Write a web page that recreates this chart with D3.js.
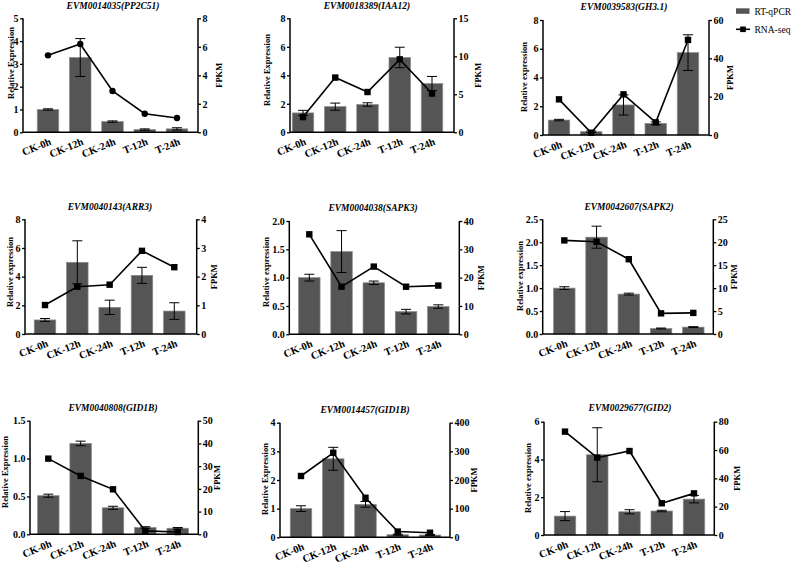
<!DOCTYPE html>
<html>
<head>
<meta charset="utf-8">
<script src="https://cdn.jsdelivr.net/npm/d3@7"></script>
<style>
  body { margin: 0; background: #fff; }
  svg { display: block; }
  svg text { font-family: "Liberation Serif", "Times New Roman", serif; }
</style>
</head>
<body>
<script>
'use strict';

// ---- data ----
const categories = ["CK-0h", "CK-12h", "CK-24h", "T-12h", "T-24h"];

const titles = [
  "EVM0014035(PP2C51)", "EVM0018389(IAA12)", "EVM0039583(GH3.1)",
  "EVM0040143(ARR3)", "EVM0004038(SAPK3)", "EVM0042607(SAPK2)",
  "EVM0040808(GID1B)", "EVM0014457(GID1B)", "EVM0029677(GID2)"
];

const yLabels = [
  "Relative Expression", "Relative Expression", "Relative expression",
  "Relative expression", "Relative expression", "Relative expression",
  "Relative Expression", "Relative Expression", "Relative expression"
];

const qpcr = [
  [1.00, 3.28, 0.47, 0.12, 0.15],
  [1.36, 1.80, 1.95, 5.25, 3.42],
  [1.04, 0.23, 2.09, 0.81, 5.73],
  [0.98, 5.00, 1.86, 4.09, 1.60],
  [1.00, 1.46, 0.91, 0.40, 0.49],
  [1.00, 2.11, 0.87, 0.12, 0.15],
  [0.51, 1.20, 0.35, 0.09, 0.08],
  [1.00, 2.74, 1.15, 0.09, 0.08],
  [1.00, 4.25, 1.23, 1.27, 1.90]
];

const qpcrErr = [
  [0.03, 0.83, 0.03, 0.03, 0.05],
  [0.18, 0.25, 0.12, 0.72, 0.50],
  [0.05, 0.05, 0.70, 0.10, 1.24],
  [0.10, 1.50, 0.50, 0.56, 0.58],
  [0.06, 0.37, 0.03, 0.04, 0.03],
  [0.03, 0.24, 0.02, 0.01, 0.01],
  [0.02, 0.03, 0.02, 0.01, 0.01],
  [0.10, 0.40, 0.10, 0.02, 0.02],
  [0.24, 1.43, 0.11, 0.04, 0.20]
];

const fpkm = [
  [5.4, 6.2, 2.9, 1.3, 1.0],
  [2.0, 7.2, 5.3, 9.6, 5.1],
  [18.6, 1.2, 21.2, 6.6, 49.6],
  [1.01, 1.65, 1.72, 2.9, 2.33],
  [35.3, 16.8, 23.9, 16.8, 17.2],
  [20.4, 20.1, 16.3, 4.5, 4.6],
  [33.3, 25.7, 19.8, 1.5, 1.0],
  [214, 295, 138, 20, 16],
  [73, 54.6, 59.3, 22.4, 29.4]
];

const leftTicks = [
  [0, 1, 2, 3, 4, 5], [0, 2, 4, 6, 8], [0, 2, 4, 6, 8],
  [0, 2, 4, 6, 8], [0, 0.5, 1, 1.5, 2], [0, 0.5, 1, 1.5, 2, 2.5],
  [0, 0.5, 1, 1.5], [0, 1, 2, 3, 4], [0, 2, 4, 6]
];
const leftFormat = ["d", "d", "d", "d", ".1f", ".1f", ".1f", "d", "d"];

const rightTicks = [
  [0, 2, 4, 6, 8], [0, 5, 10, 15], [0, 20, 40, 60],
  [0, 1, 2, 3, 4], [0, 10, 20, 30, 40], [0, 5, 10, 15, 20, 25],
  [0, 10, 20, 30, 40, 50], [0, 100, 200, 300, 400], [0, 20, 40, 60, 80]
];

const markerType = ["circle", "square", "square", "square", "square", "square", "square", "square", "square"];

const legendLabels = ["RT-qPCR", "RNA-seq"];

// ---- layout (pixel boxes of each panel) ----
const boxes = [
  { L: 23,    R: 198,   T: 18.3,  B: 132.3, x0: 48,    x4: 177,   tx: 113, ty: 9,   yl: [10.5, 63],  fx: 219 },
  { L: 290,   R: 454,   T: 18.3,  B: 132.3, x0: 303,   x4: 432,   tx: 367, ty: 9,   yl: [266.5, 70], fx: 478 },
  { L: 543,   R: 709,   T: 20,    B: 135,   x0: 559,   x4: 688,   tx: 624, ty: 10,  yl: [524, 77],   fx: 730 },
  { L: 25,    R: 196.7, T: 219.3, B: 334,   x0: 45,    x4: 174.3, tx: 110, ty: 210, yl: [9.5, 272],  fx: 214 },
  { L: 289.3, R: 459.3, T: 221,   B: 334.3, x0: 309.3, x4: 438.3, tx: 373, ty: 211, yl: [265.5, 272], fx: 481 },
  { L: 542.7, R: 713.3, T: 219.3, B: 334,   x0: 564.3, x4: 693.3, tx: 629, ty: 210, yl: [519.5, 276], fx: 734 },
  { L: 30,    R: 198.3, T: 420.7, B: 534.3, x0: 48.3,  x4: 177.7, tx: 113, ty: 411, yl: [4.5, 472],  fx: 217 },
  { L: 280,   R: 450,   T: 422.7, B: 537.3, x0: 301,   x4: 430,   tx: 365, ty: 413, yl: [265, 479],  fx: 474 },
  { L: 544,   R: 714.3, T: 421.7, B: 535,   x0: 565,   x4: 694,   tx: 630, ty: 411, yl: [527.5, 478], fx: 737 }
];

const barFill = "#555555";
const barWidth = 21.5;

const svg = d3.select("body").append("svg")
  .attr("width", 794)
  .attr("height", 565);

function drawPanel(i) {
  const b = boxes[i];
  const g = svg.append("g");

  const x = d3.scalePoint().domain(categories).range([b.x0, b.x4]);
  const lt = leftTicks[i], rt = rightTicks[i];
  const yL = d3.scaleLinear().domain([0, lt[lt.length - 1]]).range([b.B, b.T]);
  const yR = d3.scaleLinear().domain([0, rt[rt.length - 1]]).range([b.B, b.T]);

  const rows = categories.map((c, k) => ({ c: c, v: qpcr[i][k], e: qpcrErr[i][k], f: fpkm[i][k] }));

  // bars
  g.selectAll("rect.bar").data(rows).enter().append("rect")
    .attr("class", "bar")
    .attr("x", d => x(d.c) - barWidth / 2)
    .attr("width", barWidth)
    .attr("y", d => yL(d.v))
    .attr("height", d => b.B - yL(d.v))
    .attr("fill", barFill)
    .attr("stroke", "#8c8c8c")
    .attr("stroke-width", 0.7);

  // error bars
  const eb = g.selectAll("g.err").data(rows).enter().append("g").attr("class", "err")
    .attr("stroke", "#000").attr("stroke-width", 1);
  eb.append("line")
    .attr("x1", d => x(d.c)).attr("x2", d => x(d.c))
    .attr("y1", d => yL(Math.max(0, d.v - d.e))).attr("y2", d => yL(d.v + d.e));
  eb.append("line")
    .attr("x1", d => x(d.c) - 5).attr("x2", d => x(d.c) + 5)
    .attr("y1", d => yL(d.v + d.e)).attr("y2", d => yL(d.v + d.e));
  eb.append("line")
    .attr("x1", d => x(d.c) - 5).attr("x2", d => x(d.c) + 5)
    .attr("y1", d => yL(Math.max(0, d.v - d.e))).attr("y2", d => yL(Math.max(0, d.v - d.e)));

  // RNA-seq line
  const line = d3.line().x(d => x(d.c)).y(d => yR(d.f));
  g.append("path").datum(rows)
    .attr("d", line)
    .attr("fill", "none")
    .attr("stroke", "#000")
    .attr("stroke-width", 1.6);

  if (markerType[i] === "circle") {
    g.selectAll("circle.pt").data(rows).enter().append("circle")
      .attr("class", "pt")
      .attr("cx", d => x(d.c)).attr("cy", d => yR(d.f)).attr("r", 3.2)
      .attr("fill", "#000");
  } else {
    g.selectAll("rect.pt").data(rows).enter().append("rect")
      .attr("class", "pt")
      .attr("x", d => x(d.c) - 3.2).attr("y", d => yR(d.f) - 3.2)
      .attr("width", 6.4).attr("height", 6.4)
      .attr("fill", "#000");
  }

  // axes
  const axL = g.append("g").attr("transform", "translate(" + b.L + ",0)")
    .call(d3.axisLeft(yL).tickValues(lt).tickFormat(d3.format(leftFormat[i])).tickSize(3).tickPadding(1.5));
  const axR = g.append("g").attr("transform", "translate(" + b.R + ",0)")
    .call(d3.axisRight(yR).tickValues(rt).tickFormat(d3.format("d")).tickSize(3).tickPadding(1.5));
  [axL, axR].forEach(ax => {
    ax.select(".domain").attr("stroke-width", 1.5).attr("d", "M0," + b.T + "V" + b.B);
    ax.selectAll(".tick line").attr("stroke-width", 1.3);
    ax.selectAll("text")
      .style("font-weight", "bold")
      .style("font-size", "10px");
  });

  g.append("line")
    .attr("x1", b.L).attr("x2", b.R)
    .attr("y1", b.B).attr("y2", b.B)
    .attr("stroke", "#000").attr("stroke-width", 1.5);

  // category labels
  g.selectAll("text.cat").data(categories).enter().append("text")
    .attr("class", "cat")
    .attr("text-anchor", "end")
    .attr("transform", d => "translate(" + (x(d) + 4) + "," + (b.B + 12) + ")rotate(-22)")
    .style("font-weight", "bold")
    .style("font-size", "10.5px")
    .text(d => d);

  // title
  g.append("text")
    .attr("x", b.tx).attr("y", b.ty)
    .attr("text-anchor", "middle")
    .style("font-weight", "bold")
    .style("font-style", "italic")
    .style("font-size", "9.5px")
    .text(titles[i]);

  // axis titles
  g.append("text")
    .attr("transform", "translate(" + (b.yl[0] + 3) + "," + b.yl[1] + ")rotate(-90)")
    .attr("text-anchor", "middle")
    .style("font-weight", "bold")
    .style("font-size", "8.5px")
    .text(yLabels[i]);

  g.append("text")
    .attr("transform", "translate(" + (b.fx + 3) + "," + ((b.T + b.B) / 2) + ")rotate(-90)")
    .attr("text-anchor", "middle")
    .style("font-weight", "bold")
    .style("font-size", "8.5px")
    .text("FPKM");
}

d3.range(9).forEach(drawPanel);

// legend
const lg = svg.append("g");
lg.append("rect")
  .attr("x", 736).attr("y", 8.3).attr("width", 13.5).attr("height", 5.5)
  .attr("fill", barFill);
lg.append("line")
  .attr("x1", 736).attr("x2", 750).attr("y1", 29.3).attr("y2", 29.3)
  .attr("stroke", "#000").attr("stroke-width", 1.6);
lg.append("rect")
  .attr("x", 743 - 2.8).attr("y", 29.3 - 2.8).attr("width", 5.6).attr("height", 5.6)
  .attr("fill", "#000");
lg.selectAll("text").data(legendLabels).enter().append("text")
  .attr("x", 754.5)
  .attr("y", (d, k) => k === 0 ? 14.5 : 32.5)
  .style("font-size", "9.5px")
  .text(d => d);
</script>
</body>
</html>
